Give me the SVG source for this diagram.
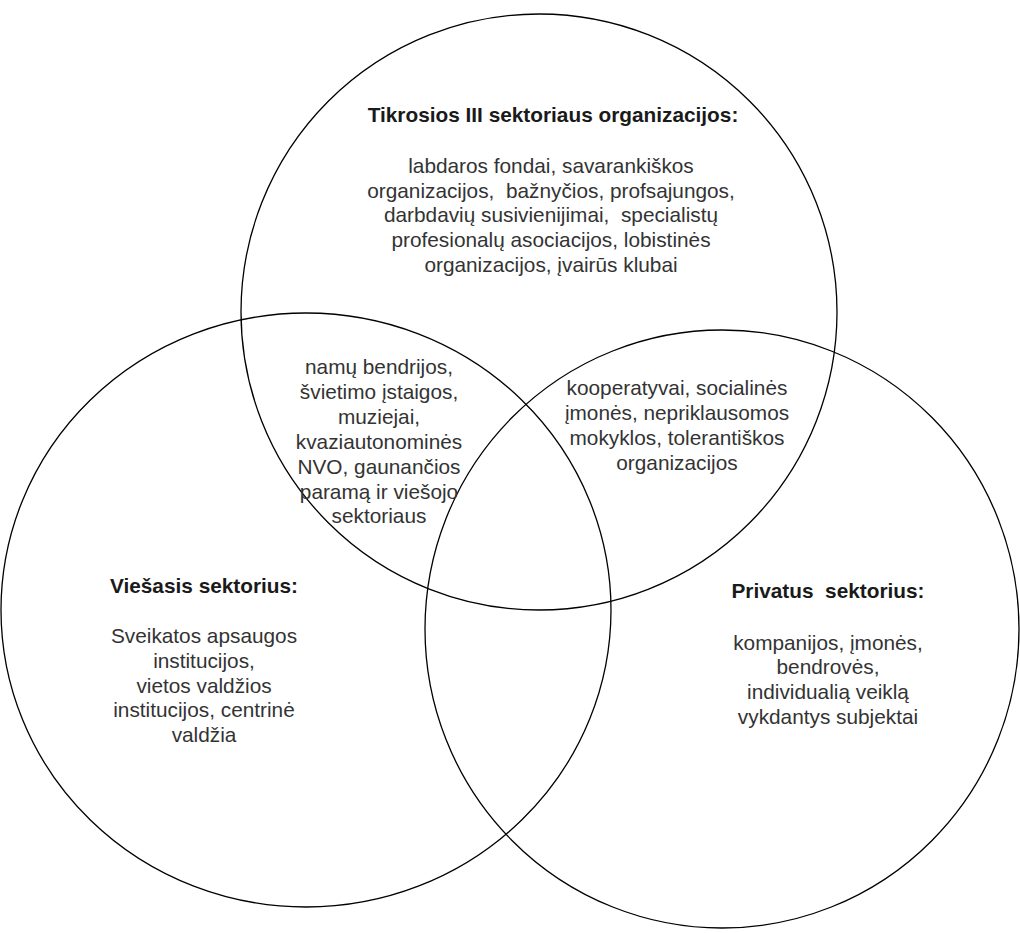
<svg xmlns="http://www.w3.org/2000/svg" width="1020" height="933" viewBox="0 0 1020 933">
<style>
.c{fill:none;stroke:#000;stroke-width:1.3}
.t{font-family:"Liberation Sans",Arial,Helvetica,sans-serif;font-size:20.8px;fill:#333;text-anchor:middle}
.b{font-weight:bold;fill:#1a1a1a}
</style>
<rect width="1020" height="933" fill="#fff"/>
<g id="top-circle">
<ellipse class="c" cx="539" cy="312" rx="298" ry="298"/>
<text class="t b" x="553" y="122">Tikrosios III sektoriaus organizacijos:</text>
<text class="t" xml:space="preserve"><tspan x="551" y="173">labdaros fondai, savarankiškos</tspan><tspan x="551" y="198">organizacijos,  bažnyčios, profsajungos,</tspan><tspan x="551" y="222">darbdavių susivienijimai,  specialistų</tspan><tspan x="551" y="247">profesionalų asociacijos, lobistinės</tspan><tspan x="551" y="272">organizacijos, įvairūs klubai</tspan></text>
</g>
<g id="left-circle">
<ellipse class="c" cx="306" cy="610" rx="305" ry="297"/>
<text class="t b" x="204" y="593">Viešasis sektorius:</text>
<text class="t"><tspan x="204" y="643">Sveikatos apsaugos</tspan><tspan x="204" y="668">institucijos,</tspan><tspan x="204" y="693">vietos valdžios</tspan><tspan x="204" y="717">institucijos, centrinė</tspan><tspan x="204" y="742">valdžia</tspan></text>
</g>
<g id="right-circle">
<ellipse class="c" cx="722" cy="629" rx="297" ry="299"/>
<text class="t b" x="828" y="598" xml:space="preserve">Privatus  sektorius:</text>
<text class="t"><tspan x="828" y="650">kompanijos, įmonės,</tspan><tspan x="828" y="674">bendrovės,</tspan><tspan x="828" y="699">individualią veiklą</tspan><tspan x="828" y="724">vykdantys subjektai</tspan></text>
</g>
<g id="overlap-top-left">
<text class="t"><tspan x="379" y="374">namų bendrijos,</tspan><tspan x="379" y="399">švietimo įstaigos,</tspan><tspan x="379" y="424">muziejai,</tspan><tspan x="379" y="449">kvaziautonominės</tspan><tspan x="379" y="474">NVO, gaunančios</tspan><tspan x="379" y="499">paramą ir viešojo</tspan><tspan x="379" y="523">sektoriaus</tspan></text>
</g>
<g id="overlap-top-right">
<text class="t"><tspan x="677" y="395">kooperatyvai, socialinės</tspan><tspan x="677" y="420">įmonės, nepriklausomos</tspan><tspan x="677" y="445">mokyklos, tolerantiškos</tspan><tspan x="677" y="470">organizacijos</tspan></text>
</g>
<g id="connectors"/>
</svg>
